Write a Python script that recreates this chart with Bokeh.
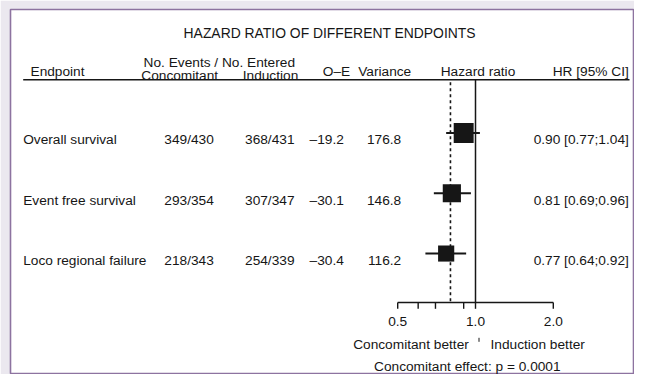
from bokeh.plotting import figure
from bokeh.models import Range1d, LogScale, ColumnDataSource
from bokeh.core.properties import value
from bokeh.embed import file_html
from bokeh.resources import INLINE

# ---------------- data ----------------
title_text = "HAZARD RATIO OF DIFFERENT ENDPOINTS"
endpoints = ["Overall survival", "Event free survival", "Loco regional failure"]
conc_events = [349, 293, 218]
conc_entered = [430, 354, 343]
ind_events = [368, 307, 254]
ind_entered = [431, 347, 339]
o_minus_e = [-19.2, -30.1, -30.4]
variance = [176.8, 146.8, 116.2]
hr = [0.90, 0.81, 0.77]
ci_low = [0.77, 0.69, 0.64]
ci_high = [1.04, 0.96, 0.92]
ref_line_hr = 0.80
major_ticks = [0.5, 1.0, 2.0]
major_tick_labels = ["0.5", "1.0", "2.0"]
minor_ticks = [0.6, 0.7, 0.9]
p_value = "0.0001"

# ---------------- layout constants (pixel space) ----------------
FONT = value("Liberation Sans")
FS = value("13.7px")
FS_T = value("13.9px")
INK = "#161616"
X_ONE = 475.0          # px position of HR = 1
PX_PER_DOUBLING = 77.8
W, H = 634, 374
FL, FT = 10, 9
FR, FB = W, H
ROW0, ROW_STEP = 132.5, 60.25
TXT_DY = 6.8
HEAD_LINE_Y = 79.3
AXIS_Y = 302.0

hr_start = 2 ** ((FL - X_ONE) / PX_PER_DOUBLING)
hr_end = 2 ** ((FR - X_ONE) / PX_PER_DOUBLING)

p = figure(width=W, height=H, x_range=Range1d(FL, FR), y_range=Range1d(FB, FT),
           output_backend="svg", toolbar_location=None,
           x_axis_location=None, y_axis_location=None,
           min_border_left=FL, min_border_right=0, min_border_top=FT, min_border_bottom=0)
p.extra_x_ranges = {"hr": Range1d(hr_start, hr_end)}
p.extra_x_scales = {"hr": LogScale()}
p.xgrid.visible = False
p.ygrid.visible = False
p.background_fill_color = "white"
p.border_fill_color = "#ebe8ef"
p.outline_line_color = "#8d73a0"
p.outline_line_width = 1.6


def txt(x, y, t, align="left", size=FS, x_range_name="default"):
    p.text(x=x, y=y, text=t, text_font=FONT, text_font_size=size, text_color=INK,
           text_align=align, text_baseline="alphabetic", x_range_name=x_range_name)


# title and header
txt([329.2], [32.5], [title_text], align="center", size=FS_T)
txt([218.8], [61.7], ["No. Events / No. Entered"], align="center")
txt([179.2, 270.0], [75.0, 75.0], ["Concomitant", "Induction"], align="center")
txt([30.0], [71.0], ["Endpoint"])
txt([336.0], [71.0], ["O\u2013E"], align="center")
txt([357.7], [71.0], ["Variance"])
txt([477.5], [71.0], ["Hazard ratio"], align="center")
txt([628.3], [71.0], ["HR [95% CI]"], align="right")
p.segment(x0=[22.7], y0=[HEAD_LINE_Y], x1=[629.0], y1=[HEAD_LINE_Y], line_color=INK, line_width=1.6)

# rows
n = len(endpoints)
row_y = [ROW0 + ROW_STEP * i for i in range(n)]
text_y = [y + TXT_DY for y in row_y]
conc_txt = [f"{a}/{b}" for a, b in zip(conc_events, conc_entered)]
ind_txt = [f"{a}/{b}" for a, b in zip(ind_events, ind_entered)]
oe_txt = [("\u2013" if v < 0 else "") + f"{abs(v):.1f}" for v in o_minus_e]
var_txt = [f"{v:.1f}" for v in variance]
hr_txt = [f"{h:.2f} [{lo:.2f};{hi:.2f}]" for h, lo, hi in zip(hr, ci_low, ci_high)]

txt([22.7] * n, text_y, endpoints)
txt([213.3] * n, text_y, conc_txt, align="right")
txt([294.0] * n, text_y, ind_txt, align="right")
txt([343.3] * n, text_y, oe_txt, align="right")
txt([400.7] * n, text_y, var_txt, align="right")
txt([628.3] * n, text_y, hr_txt, align="right")

# forest: reference lines
p.segment(x0=[1.0], y0=[HEAD_LINE_Y], x1=[1.0], y1=[AXIS_Y], x_range_name="hr",
          line_color=INK, line_width=1.5)
p.segment(x0=[ref_line_hr], y0=[HEAD_LINE_Y + 2.4], x1=[ref_line_hr], y1=[AXIS_Y], x_range_name="hr",
          line_color=INK, line_width=1.6, line_dash="3 3")

# forest: CIs and squares
src = ColumnDataSource(dict(hr=hr, lo=ci_low, hi=ci_high, y=row_y,
                            size=[1.5 * v ** 0.5 for v in variance]))
p.segment(x0="lo", y0="y", x1="hi", y1="y", source=src, x_range_name="hr",
          line_color=INK, line_width=2.0)
p.scatter(x="hr", y="y", size="size", marker="square", source=src, x_range_name="hr",
          fill_color=INK, line_color=INK, line_width=0)

# forest: HR axis (log scale)
p.segment(x0=[major_ticks[0]], y0=[AXIS_Y], x1=[major_ticks[-1]], y1=[AXIS_Y], x_range_name="hr",
          line_color=INK, line_width=1.6)
all_ticks = major_ticks + minor_ticks
p.segment(x0=all_ticks, y0=[AXIS_Y] * len(all_ticks), x1=all_ticks, y1=[AXIS_Y + 6.3] * len(all_ticks),
          x_range_name="hr", line_color=INK, line_width=1.4)
txt(major_ticks, [321.2] * len(major_ticks), major_tick_labels, align="center", x_range_name="hr")

# footer
txt([468.3], [343.8], ["Concomitant better"], align="right")
txt([490.0], [343.8], ["Induction better"], align="left")
p.segment(x0=[478.5], y0=[337.3], x1=[478.5], y1=[341.3], line_color=INK, line_width=1.0)
txt([466.8], [366.2], [f"Concomitant effect: p = {p_value}"], align="center")

open("out.html", "w").write(file_html(p, INLINE))
